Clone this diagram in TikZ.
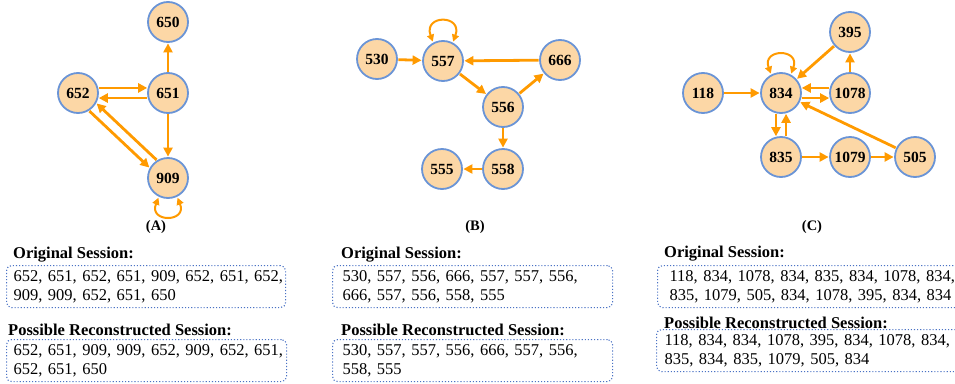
\documentclass[tikz,border=0pt]{standalone}
\usepackage{fontspec}
\setmainfont{Liberation Serif}
\usetikzlibrary{arrows.meta}
\definecolor{nfill}{HTML}{FCD7A6}
\definecolor{nline}{HTML}{6A94D6}
\definecolor{aorange}{HTML}{FF9A00}
\definecolor{boxblue}{HTML}{4A72C4}
\begin{document}
\begin{tikzpicture}[x=1pt,y=-1pt,
  nd/.style={circle, draw=nline, fill=nfill, line width=1.8pt, minimum size=40pt, inner sep=0pt, font=\fontsize{15.5}{16}\selectfont\bfseries},
  arr/.style={draw=aorange, line width=2.8pt, -{Triangle[length=9pt,width=9pt]}, shorten >=0.5pt, shorten <=0.5pt},
  looparr/.style={draw=aorange, line width=2pt, {Triangle[length=7pt,width=7pt]}-{Triangle[length=7pt,width=7pt]}, shorten >=1pt, shorten <=1pt},
  sbox/.style={draw=boxblue, dotted, line width=1.1pt, rounded corners=5pt, anchor=north west, align=left, font=\fontsize{16.5}{19}\selectfont, inner ysep=0pt, minimum height=42pt},
  head/.style={anchor=west, inner sep=0pt, font=\fontsize{16.5}{19}\selectfont\bfseries},
  lab/.style={inner sep=0pt, font=\fontsize{14.5}{16}\selectfont\bfseries}]
\useasboundingbox (0,0) rectangle (955,383);
% ---------- (A)
\node[nd] (a650) at (168,22) {650};
\node[nd] (a652) at (78,93) {652};
\node[nd] (a651) at (168,93) {651};
\node[nd] (a909) at (168,178) {909};
\draw[arr] (a651.north) -- (a650.south);
\draw[arr] (a652.14) -- (a651.166);
\draw[arr] (a651.194) -- (a652.-14);
\draw[arr] (a651.south) -- (a909.north);
\draw[arr] (a652.-58) -- (a909.151);
\draw[arr] (a909.122) -- (a652.-29);
\draw[looparr] (a909.-116) .. controls +(-112:28pt) and +(-68:28pt) .. (a909.-64);
\node[lab] (labA) at (156,227) {(A)};
% ---------- (B)
\node[nd] (b530) at (377,59) {530};
\node[nd] (b557) at (443,61) {557};
\node[nd] (b666) at (560,60) {666};
\node[nd] (b556) at (503,107) {556};
\node[nd] (b558) at (503,169) {558};
\node[nd] (b555) at (442,169) {555};
\draw[arr] (b530) -- (b557);
\draw[arr] (b666) -- (b557);
\draw[arr] (b557) -- (b556);
\draw[arr] (b556) -- (b666);
\draw[arr] (b556) -- (b558);
\draw[arr] (b558) -- (b555);
\draw[looparr] (b557.118) .. controls +(110:30pt) and +(70:30pt) .. (b557.62);
\node[lab] (labB) at (475,227) {(B)};
% ---------- (C)
\node[nd] (c395) at (850,32) {395};
\node[nd] (c118) at (703,93) {118};
\node[nd] (c834) at (781,93) {834};
\node[nd] (c1078) at (850,93) {1078};
\node[nd] (c835) at (781,157) {835};
\node[nd] (c1079) at (850,157) {1079};
\node[nd] (c505) at (915,157) {505};
\draw[arr] (c118) -- (c834);
\draw[arr] (c395) -- (c834);
\draw[arr] (c1078) -- (c395);
\draw[arr] (c1078.166) -- (c834.14);
\draw[arr] (c834.-14) -- (c1078.194);
\draw[arr] (c834.-104) -- (c835.104);
\draw[arr] (c835.76) -- (c834.-76);
\draw[arr] (c835) -- (c1079);
\draw[arr] (c1079) -- (c505);
\draw[arr] (c505) -- (c834);
\draw[looparr] (c834.118) .. controls +(110:28pt) and +(70:28pt) .. (c834.62);
\node[lab] (labC) at (812,227) {(C)};
% ---------- sessions A
\node[head] (hA1) at (13,255) {Original Session:};
\node[sbox, minimum width=279pt, text width=265pt, inner xsep=7pt] (sA1) at (6,265) {\mbox{652, 651, 652, 651, 909, 652, 651, 652,}\\\mbox{909, 909, 652, 651, 650}};
\node[head] (hA2) at (8,330) {Possible Reconstructed Session:};
\node[sbox, minimum width=280pt, text width=266pt, inner xsep=7pt] (sA2) at (6,339) {\mbox{652, 651, 909, 909, 652, 909, 652, 651,}\\\mbox{652, 651, 650}};
% ---------- sessions B
\node[head] (hB1) at (341,255) {Original Session:};
\node[sbox, minimum width=280pt, text width=260pt, inner xsep=10pt] (sB1) at (332,265) {\mbox{530, 557, 556, 666, 557, 557, 556,}\\\mbox{666, 557, 556, 558, 555}};
\node[head] (hB2) at (341,330) {Possible Reconstructed Session:};
\node[sbox, minimum width=280pt, text width=260pt, inner xsep=10pt] (sB2) at (332,339) {\mbox{530, 557, 557, 556, 666, 557, 556,}\\\mbox{558, 555}};
% ---------- sessions C
\node[head] (hC1) at (664,254) {Original Session:};
\node[sbox, minimum width=310pt, text width=286pt, inner xsep=12pt] (sC1) at (657,265) {\mbox{118, 834, 1078, 834, 835, 834, 1078, 834,}\\\mbox{835, 1079, 505, 834, 1078, 395, 834, 834}};
\node[head] (hC2) at (664,323) {Possible Reconstructed Session:};
\node[sbox, minimum width=310pt, text width=294pt, inner xsep=8pt] (sC2) at (656,329) {\mbox{118, 834, 834, 1078, 395, 834, 1078, 834,}\\\mbox{835, 834, 835, 1079, 505, 834}};
\end{tikzpicture}
\end{document}
